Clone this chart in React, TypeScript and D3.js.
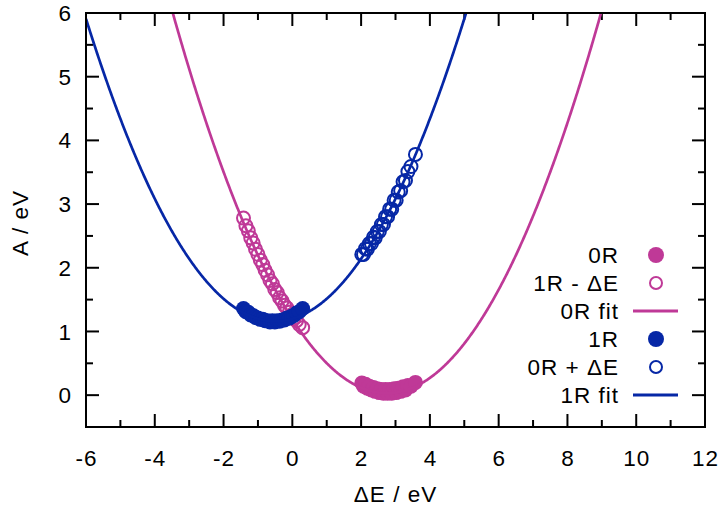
import React from "react";
import * as d3 from "d3";

// Sampled points: 0R state (A vs ΔE)
const X_0R = [2.02, 2.07, 2.13, 2.18, 2.24, 2.3, 2.36, 2.41, 2.47, 2.53, 2.59, 2.65, 2.71, 2.77, 2.83, 2.89, 2.96, 3.02, 3.08, 3.15, 3.22, 3.29, 3.36, 3.45, 3.58];
const Y_0R = [0.19, 0.14, 0.17, 0.11, 0.14, 0.08, 0.12, 0.06, 0.1, 0.04, 0.09, 0.03, 0.09, 0.03, 0.09, 0.03, 0.1, 0.04, 0.11, 0.06, 0.13, 0.08, 0.15, 0.14, 0.2];

// Sampled points: 1R state
const X_1R = [-1.42, -1.35, -1.28, -1.21, -1.14, -1.07, -1.0, -0.93, -0.86, -0.79, -0.72, -0.65, -0.58, -0.51, -0.44, -0.37, -0.3, -0.23, -0.16, -0.09, -0.02, 0.05, 0.12, 0.2, 0.3];
const Y_1R = [1.36, 1.31, 1.3, 1.26, 1.25, 1.22, 1.21, 1.19, 1.19, 1.17, 1.17, 1.15, 1.17, 1.15, 1.17, 1.16, 1.18, 1.18, 1.21, 1.21, 1.24, 1.25, 1.29, 1.31, 1.36];

// Parabolic fits: [curvature, centre, minimum]
const FIT_0R = [0.154, 2.75, 0.03];
const FIT_1R = [0.157, -0.5, 1.16];

const X_TICKS = [-6, -4, -2, 0, 2, 4, 6, 8, 10, 12];
const X_MINOR = [-5, -3, -1, 1, 3, 5, 7, 9, 11];
const Y_TICKS = [0, 1, 2, 3, 4, 5, 6];
const Y_MINOR = [0.5, 1.5, 2.5, 3.5, 4.5, 5.5];

const LEGEND = ["0R", "1R - ΔE", "0R fit", "1R", "0R + ΔE", "1R fit"];

const PINK = "#bf3997";
const BLUE = "#0627a6";

const W = 725;
const H = 508;
const M = { left: 86, right: 705, top: 13, bottom: 427 };
const FONT = "'Liberation Sans', Arial, Helvetica, sans-serif";
const FS = 22.5;
const LS = 1;

export default function App() {
  const x = d3.scaleLinear().domain([-6, 12]).range([M.left, M.right]);
  const y = d3.scaleLinear().domain([-0.5, 6]).range([M.bottom, M.top]);

  const pts0 = X_0R.map((v, i) => [v, Y_0R[i]]);
  const pts1 = X_1R.map((v, i) => [v, Y_1R[i]]);
  // 1R - ΔE and 0R + ΔE
  const pts1m = X_1R.map((v, i) => [v, Y_1R[i] - v]);
  const pts0p = X_0R.map((v, i) => [v, Y_0R[i] + v]);

  const fitPts = (f: number[]) =>
    d3.range(-6, 12.001, 0.02).map((v) => [v, f[0] * (v - f[1]) ** 2 + f[2]]);
  const line = d3
    .line<number[]>()
    .x((d) => x(d[0]))
    .y((d) => y(d[1]));

  const R = 7.5;
  const LW = 2.7;
  const majorLen = 13;
  const minorLen = 7;

  const legendTop = 255;
  const legendStep = 28;
  const legendTextX = 619;
  const legendSymX = 656;

  return (
    <svg
      width={W}
      height={H}
      style={{ position: "absolute", left: 0, top: 0, background: "#fff" }}
      fontFamily={FONT}
    >
      <defs>
        <clipPath id="plotArea">
          <rect x={M.left} y={M.top} width={M.right - M.left} height={M.bottom - M.top} />
        </clipPath>
      </defs>

      {/* ticks on all four sides, pointing inward */}
      <g stroke="#000" strokeWidth={2}>
        {X_TICKS.map((t) => (
          <g key={"xt" + t}>
            <line x1={x(t)} x2={x(t)} y1={M.bottom} y2={M.bottom - majorLen} />
            <line x1={x(t)} x2={x(t)} y1={M.top} y2={M.top + majorLen} />
          </g>
        ))}
        {X_MINOR.map((t) => (
          <g key={"xm" + t}>
            <line x1={x(t)} x2={x(t)} y1={M.bottom} y2={M.bottom - minorLen} />
            <line x1={x(t)} x2={x(t)} y1={M.top} y2={M.top + minorLen} />
          </g>
        ))}
        {Y_TICKS.map((t) => (
          <g key={"yt" + t}>
            <line x1={M.left} x2={M.left + majorLen} y1={y(t)} y2={y(t)} />
            <line x1={M.right} x2={M.right - majorLen} y1={y(t)} y2={y(t)} />
          </g>
        ))}
        {Y_MINOR.map((t) => (
          <g key={"ym" + t}>
            <line x1={M.left} x2={M.left + minorLen} y1={y(t)} y2={y(t)} />
            <line x1={M.right} x2={M.right - minorLen} y1={y(t)} y2={y(t)} />
          </g>
        ))}
      </g>

      {/* tick labels */}
      <g fontSize={FS} fill="#000" letterSpacing={LS}>
        {X_TICKS.map((t) => (
          <text key={"xl" + t} x={x(t) + LS / 2} y={466} textAnchor="middle">
            {t}
          </text>
        ))}
        {Y_TICKS.map((t) => (
          <text key={"yl" + t} x={72} y={y(t)} dy="0.36em" textAnchor="end">
            {t}
          </text>
        ))}
      </g>

      {/* axis titles */}
      <text
        x={(M.left + M.right) / 2}
        y={502}
        textAnchor="middle"
        fontSize={FS}
        letterSpacing={LS}
      >
        ΔE / eV
      </text>
      <text
        transform={`translate(28, ${(M.top + M.bottom) / 2 + 3}) rotate(-90)`}
        textAnchor="middle"
        fontSize={FS}
        letterSpacing={LS}
      >
        A / eV
      </text>

      {/* data, in legend order */}
      <g clipPath="url(#plotArea)">
        {pts0.map((d, i) => (
          <circle key={"a" + i} cx={x(d[0])} cy={y(d[1])} r={R} fill={PINK} />
        ))}
        {pts1m.map((d, i) => (
          <circle key={"b" + i} cx={x(d[0])} cy={y(d[1])} r={R - 1} fill="none" stroke={PINK} strokeWidth={2} />
        ))}
        <path d={line(fitPts(FIT_0R)) || ""} fill="none" stroke={PINK} strokeWidth={LW} />
        {pts1.map((d, i) => (
          <circle key={"c" + i} cx={x(d[0])} cy={y(d[1])} r={R} fill={BLUE} />
        ))}
        {pts0p.map((d, i) => (
          <circle key={"d" + i} cx={x(d[0])} cy={y(d[1])} r={R - 1} fill="none" stroke={BLUE} strokeWidth={2} />
        ))}
        <path d={line(fitPts(FIT_1R)) || ""} fill="none" stroke={BLUE} strokeWidth={LW} />
      </g>

      {/* legend */}
      <g fontSize={FS} letterSpacing={LS}>
        {LEGEND.map((label, i) => {
          const cy = legendTop + i * legendStep;
          const color = i < 3 ? PINK : BLUE;
          const kind = i % 3;
          return (
            <g key={label}>
              <text x={legendTextX} y={cy} dy="0.36em" textAnchor="end">
                {label}
              </text>
              {kind === 0 && <circle cx={legendSymX} cy={cy} r={8} fill={color} />}
              {kind === 1 && (
                <circle cx={legendSymX} cy={cy} r={6} fill="none" stroke={color} strokeWidth={2} />
              )}
              {kind === 2 && (
                <line x1={633} x2={678} y1={cy} y2={cy} stroke={color} strokeWidth={3} />
              )}
            </g>
          );
        })}
      </g>

      {/* frame */}
      <rect
        x={M.left}
        y={M.top}
        width={M.right - M.left}
        height={M.bottom - M.top}
        fill="none"
        stroke="#000"
        strokeWidth={2}
      />
    </svg>
  );
}
